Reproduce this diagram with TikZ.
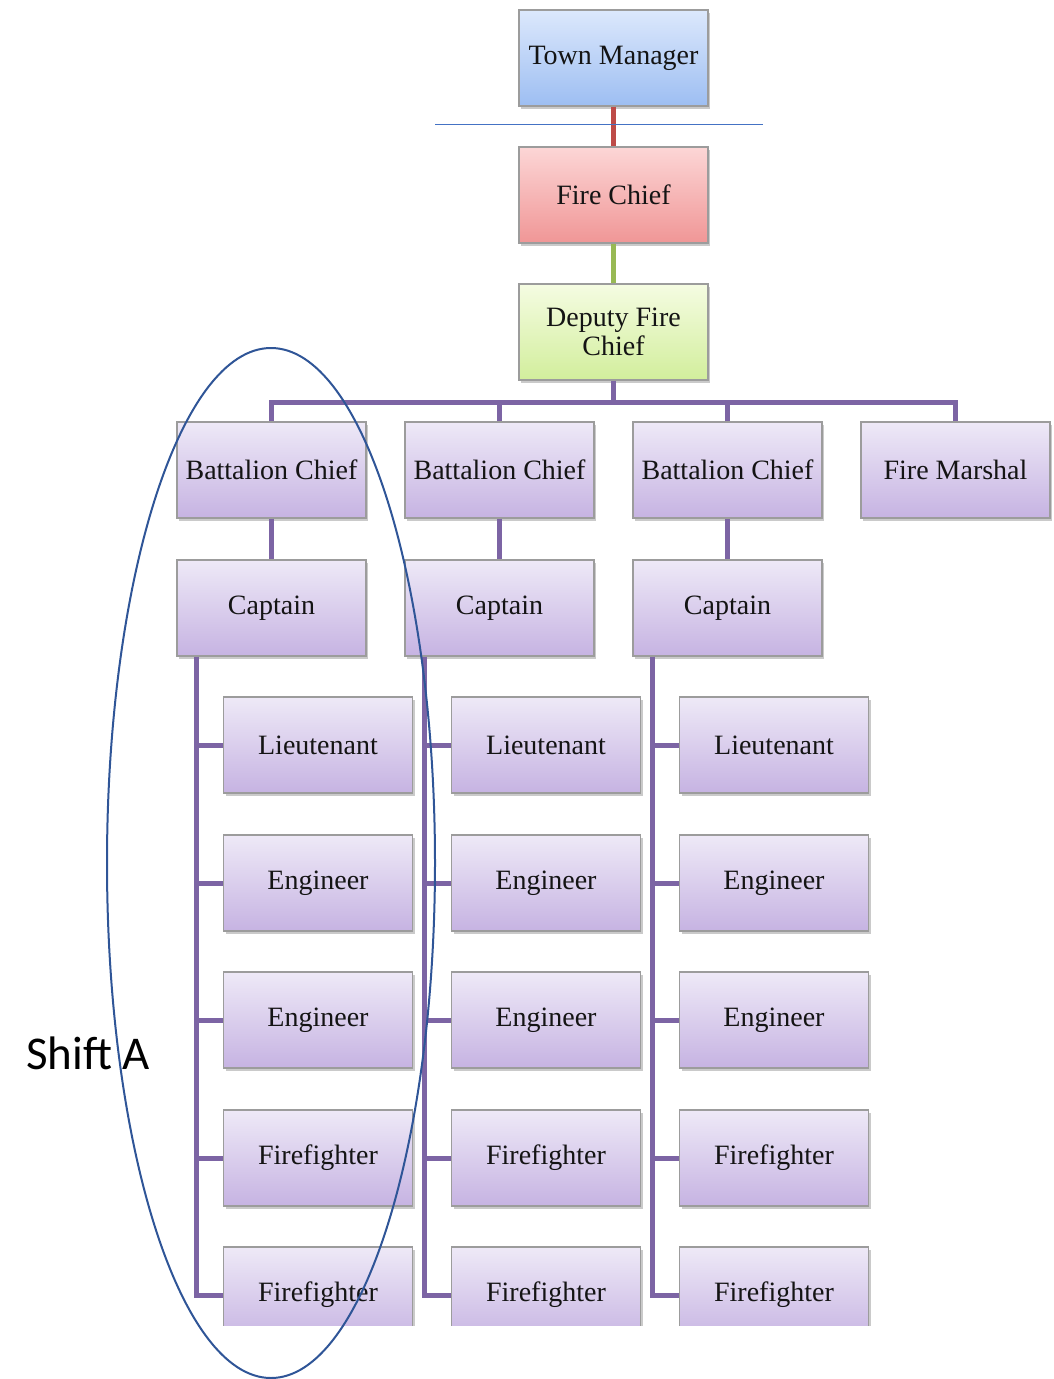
\documentclass[tikz,border=0pt]{standalone}
\usepackage{fontspec}
\setmainfont{Liberation Serif}
\newfontfamily\labelfont{Carlito}
\usetikzlibrary{shadows,calc}

\definecolor{purpleTop}{HTML}{EEE9F7}
\definecolor{purpleBot}{HTML}{C6B3E2}
\definecolor{blueTop}{HTML}{DCE8FC}
\definecolor{blueBot}{HTML}{9DBEF2}
\definecolor{redTop}{HTML}{FCD6D6}
\definecolor{redBot}{HTML}{F09696}
\definecolor{greenTop}{HTML}{F5FCE2}
\definecolor{greenBot}{HTML}{D2EE9C}
\definecolor{frameGray}{HTML}{9C9C9C}
\definecolor{busPurple}{HTML}{7C64A4}
\definecolor{linkRed}{HTML}{BE4B48}
\definecolor{linkGreen}{HTML}{98B954}
\definecolor{markBlue}{HTML}{4472C4}
\definecolor{loopBlue}{HTML}{2F5597}

\tikzset{
  orgbox/.style={draw=frameGray, line width=1.2pt, minimum width=189pt,
    minimum height=96pt, inner sep=0pt, align=center, text=black!92,
    font=\fontsize{28}{29}\selectfont,
    drop shadow={shadow xshift=2pt, shadow yshift=-3pt, opacity=0.35, fill=black!60}},
  rank/.style={orgbox, top color=purpleTop, bottom color=purpleBot},
  conn/.style={line width=5pt, draw=busPurple},
}

\begin{document}
\begin{tikzpicture}[x=1pt, y=-1pt]
\useasboundingbox (0,0) rectangle (1054,1379);

\begin{scope}
\clip (0,0) rectangle (1054,1325);

% top of the chain of command
\node[orgbox, top color=blueTop, bottom color=blueBot] (tm) at (613.5,58) {Town Manager};
\node[orgbox, top color=redTop, bottom color=redBot] (fc) at (613.5,195) {Fire Chief};
\node[orgbox, top color=greenTop, bottom color=greenBot] (dfc) at (613.5,332) {Deputy Fire\\Chief};
\node[rank] (fm) at (955.5,470) {Fire Marshal};

% three battalions
\foreach \c/\x/\r in {1/271.5/318, 2/499.5/546, 3/727.5/774} {
  \node[rank] (bc\c) at (\x,470) {Battalion Chief};
  \node[rank] (cap\c) at (\x,608) {Captain};
  \node[rank] (lt\c) at (\r,745) {Lieutenant};
  \node[rank] (ena\c) at (\r,883) {Engineer};
  \node[rank] (enb\c) at (\r,1020) {Engineer};
  \node[rank] (ffa\c) at (\r,1158) {Firefighter};
  \node[rank] (ffb\c) at (\r,1295) {Firefighter};
}

% connectors
\draw[line width=5pt, draw=linkRed] (tm.south) -- (fc.north);
\draw[line width=5pt, draw=linkGreen] (fc.south) -- (dfc.north);
\coordinate (bus) at (613.5,402);
\draw[conn] (dfc.south) -- (bus);
\draw[conn] (bc1.north) |- (bus) -| (fm.north);
\draw[conn] (bc2.north) -- (bc2.north |- bus);
\draw[conn] (bc3.north) -- (bc3.north |- bus);

\foreach \c in {1,2,3} {
  \draw[conn] (bc\c.south) -- (cap\c.north);
  \coordinate (sb\c) at ($(cap\c.south west)+(20,0)$);
  \draw[conn] (sb\c) |- (ffb\c.west);
  \foreach \n in {lt,ena,enb,ffa} {
    \draw[conn] (sb\c |- \n\c.west) -- (\n\c.west);
  }
}
\end{scope}

% annotations
\coordinate (markL) at (435,124);
\coordinate (markR) at (763,124);
\draw[markBlue, line width=1pt] (markL) -- (markR);
\draw[loopBlue, line width=2pt] (271,863) ellipse [x radius=164pt, y radius=515pt];
\node[font=\labelfont\fontsize{47}{50}\selectfont, inner sep=0pt] (shift) at (88,1053) {Shift A};
\end{tikzpicture}
\end{document}
